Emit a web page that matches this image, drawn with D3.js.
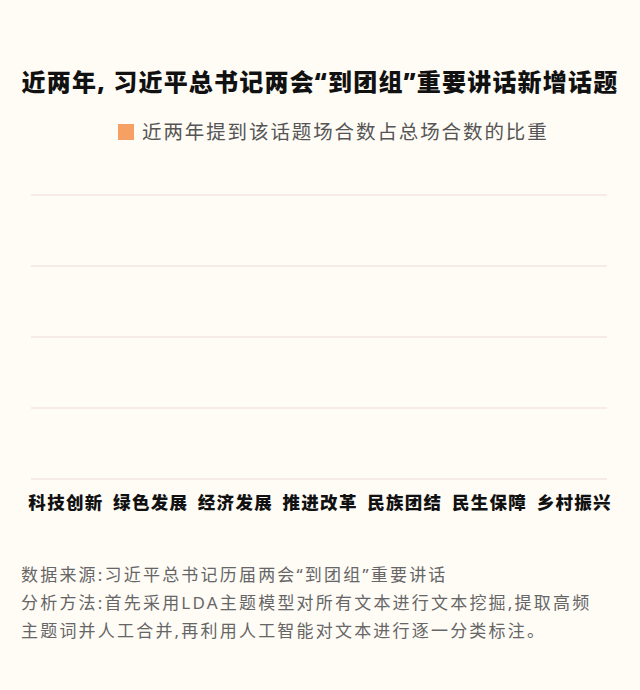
<!DOCTYPE html>
<html><head><meta charset="utf-8">
<script src="https://cdn.jsdelivr.net/npm/d3@7"></script>
<style>
html,body{margin:0;padding:0;background:#fffcf6;}
svg{display:block;font-family:"Noto Sans","Noto Sans CJK SC",sans-serif;}
</style></head>
<body><svg id="c" width="640" height="690"></svg>
<script>
const categories = ["科技创新","绿色发展","经济发展","推进改革","民族团结","民生保障","乡村振兴"];
// Bars are not visible in the reference (zero height as shown)
const shares = [0,0,0,0,0,0,0];
const yTicks = [0,0.25,0.5,0.75,1];
const title = "近两年, 习近平总书记两会“到团组”重要讲话新增话题";
const legendLabel = "近两年提到该话题场合数占总场合数的比重";
const notes = ["数据来源:习近平总书记历届两会“到团组”重要讲话",
  "分析方法:首先采用LDA主题模型对所有文本进行文本挖掘,提取高频",
  "主题词并人工合并,再利用人工智能对文本进行逐一分类标注。"];

const svg = d3.select("#c");
svg.append("rect").attr("width",640).attr("height",690).attr("fill","#fffcf6");

svg.append("text").attr("x",320).attr("y",91).attr("text-anchor","middle")
  .attr("font-size",24).attr("font-weight",900).attr("fill","#111")
  .attr("letter-spacing","1.2").text(title);

svg.append("rect").attr("x",118).attr("y",124).attr("width",16).attr("height",16).attr("fill","#f7a063");
svg.append("text").attr("x",142).attr("y",139).attr("font-size",19.5).attr("fill","#555")
  .attr("letter-spacing","1.9").text(legendLabel);

const x = d3.scaleBand().domain(categories).range([23,616]).paddingInner(0.3).paddingOuter(0.15);
const y = d3.scaleLinear().domain([0,1]).range([479,195]);

svg.append("g").selectAll("line").data(yTicks).join("line")
  .attr("x1",31).attr("x2",607).attr("y1",d=>y(d)).attr("y2",d=>y(d))
  .attr("stroke","#f4e6e0").attr("stroke-width",1.5);

svg.append("g").selectAll("rect").data(shares).join("rect")
  .attr("x",(d,i)=>x(categories[i])).attr("width",x.bandwidth())
  .attr("y",d=>y(d)).attr("height",d=>y(0)-y(d)).attr("fill","#f7a063");

const ax = svg.append("g").attr("transform","translate(0.6,495)")
  .call(d3.axisBottom(x).tickSize(0).tickPadding(0));
ax.select(".domain").remove();
ax.selectAll("text").attr("font-size",17.5).attr("font-weight",900).attr("fill","#111")
  .attr("dy","0.8em").attr("letter-spacing","1.3")
  .style("font-family",'"Noto Sans CJK SC",sans-serif');

svg.append("g").selectAll("text").data(notes).join("text")
  .attr("x",21).attr("y",(d,i)=>581+i*28).attr("font-size",17).attr("fill","#666")
  .attr("letter-spacing","2.2").text(d=>d);
</script></body></html>
